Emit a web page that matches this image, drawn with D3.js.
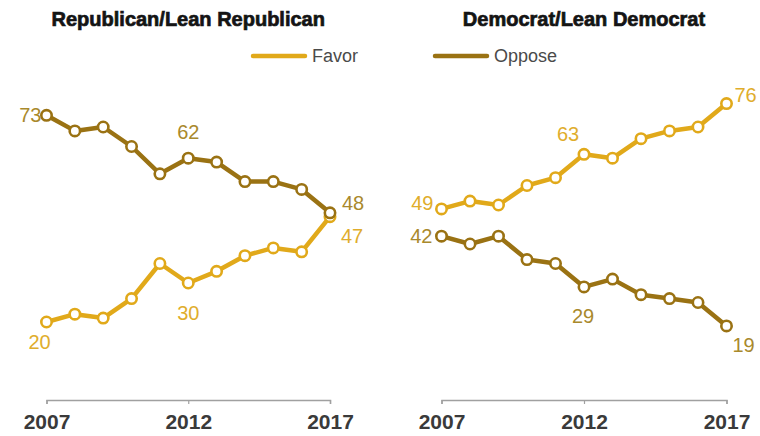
<!DOCTYPE html>
<html>
<head>
<meta charset="utf-8">
<script src="https://cdn.jsdelivr.net/npm/d3@7"></script>
<style>
  html, body { margin: 0; padding: 0; background: #fff; }
  svg { display: block; font-family: "Liberation Sans", Arial, sans-serif; }
</style>
</head>
<body>
<svg id="chart" width="760" height="436"></svg>
<script>
// Survey years and shares (%) who favor / oppose, by party group
const years = [2007, 2008, 2009, 2010, 2011, 2012, 2013, 2014, 2015, 2016, 2017];
const tickYears = [2007, 2012, 2017];
const panelTitles = ["Republican/Lean Republican", "Democrat/Lean Democrat"];
const seriesNames = ["Favor", "Oppose"];
const repFavor  = [20, 22, 21, 26, 35, 30, 33, 37, 39, 38, 47];
const repOppose = [73, 69, 70, 65, 58, 62, 61, 56, 56, 54, 48];
const demFavor  = [49, 51, 50, 55, 57, 63, 62, 67, 69, 70, 76];
const demOppose = [42, 40, 42, 36, 35, 29, 31, 27, 26, 25, 19];
// Points that carry a value label (first, 2012, last)
const labeledYears = [2007, 2012, 2017];

const COLORS = { Favor: "#e1a91a", Oppose: "#9a7213" };
const LABEL_COLORS = { Favor: "#e0ad2c", Oppose: "#a9892c" };

const svg = d3.select("#chart");

const y = d3.scaleLinear().domain([0, 100]).range([400, 10]);

// Label offsets per panel / series / labeled point: [dx, dy, anchor]
const labelPlacement = {
  rep: {
    Favor:  [[-7, 20, "middle"], [0, 30, "middle"], [11, 19, "start"]],
    Oppose: [[-5, 0, "end"], [0, -26, "middle"], [12, -10, "start"]]
  },
  dem: {
    Favor:  [[-8, -6, "end"], [-16, -20, "middle"], [8, -9, "start"]],
    Oppose: [[-9, 0, "end"], [-1, 29, "middle"], [6, 19, "start"]]
  }
};

const panels = [
  { key: "rep", title: panelTitles[0], x0: 46.5, x1: 330, series: { Favor: repFavor, Oppose: repOppose } },
  { key: "dem", title: panelTitles[1], x0: 441.5, x1: 726.5, series: { Favor: demFavor, Oppose: demOppose } }
];

panels.forEach(p => {
  const x = d3.scaleLinear().domain([years[0], years[years.length - 1]]).range([p.x0, p.x1]);
  const g = svg.append("g");

  // Panel title (heavy weight)
  g.append("text")
    .attr("x", (p.x0 + p.x1) / 2)
    .attr("y", 26)
    .attr("text-anchor", "middle")
    .attr("font-size", 20)
    .attr("font-weight", "bold")
    .attr("fill", "#141414")
    .attr("stroke", "#141414")
    .attr("stroke-width", 0.7)
    .text(p.title);

  // Bottom axis
  const axis = d3.axisBottom(x).tickValues(tickYears).tickFormat(d3.format("d")).tickSize(4).tickSizeOuter(4);
  const ax = g.append("g").attr("transform", "translate(0,400)").call(axis);
  ax.select(".domain").attr("stroke", "#a0a0a0").attr("stroke-width", 1.5);
  ax.selectAll(".tick line").attr("stroke", "#a0a0a0").attr("stroke-width", 1.2);
  ax.selectAll(".tick text")
    .attr("y", 14)
    .attr("dy", "0.71em")
    .attr("font-size", 21)
    .attr("font-weight", "bold")
    .attr("fill", "#3a3a3a")
    .attr("font-family", "'Liberation Sans', Arial, sans-serif");

  const line = d3.line().x((d, i) => x(years[i])).y(d => y(d));

  seriesNames.forEach(name => {
    const vals = p.series[name];
    g.append("path")
      .datum(vals)
      .attr("d", line)
      .attr("fill", "none")
      .attr("stroke", COLORS[name])
      .attr("stroke-width", 4.5)
      .attr("stroke-linejoin", "round");

    g.selectAll(null)
      .data(vals)
      .enter().append("circle")
      .attr("cx", (d, i) => x(years[i]))
      .attr("cy", d => y(d))
      .attr("r", 5.2)
      .attr("fill", "#fff")
      .attr("stroke", COLORS[name])
      .attr("stroke-width", 2.6);

    labeledYears.forEach((yr, k) => {
      const i = years.indexOf(yr);
      const [dx, dy, anchor] = labelPlacement[p.key][name][k];
      g.append("text")
        .attr("x", x(yr) + dx)
        .attr("y", y(vals[i]) + dy)
        .attr("dy", "0.35em")
        .attr("text-anchor", anchor)
        .attr("font-size", 20)
        .attr("fill", LABEL_COLORS[name])
        .text(vals[i]);
    });
  });
});

// Legend
const legendItems = [
  { name: seriesNames[0], x: 253 },
  { name: seriesNames[1], x: 435 }
];
const lg = svg.append("g");
legendItems.forEach(it => {
  lg.append("line")
    .attr("x1", it.x).attr("x2", it.x + 52)
    .attr("y1", 56).attr("y2", 56)
    .attr("stroke", COLORS[it.name])
    .attr("stroke-width", 4.5)
    .attr("stroke-linecap", "round");
  lg.append("text")
    .attr("x", it.x + 59)
    .attr("y", 62)
    .attr("font-size", 18)
    .attr("fill", "#4a4a4a")
    .text(it.name);
});
</script>
</body>
</html>
